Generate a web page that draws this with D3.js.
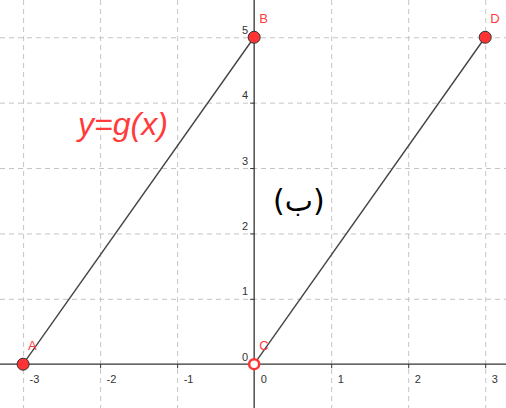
<!DOCTYPE html>
<html>
<head>
<meta charset="utf-8">
<script src="https://cdn.jsdelivr.net/npm/d3@7"></script>
<style>
  body { margin: 0; background: #fff; }
  svg { display: block; font-family: "Liberation Sans", Arial, sans-serif; }
</style>
</head>
<body>
<div id="chart"></div>
<script>
const width = 506
const height = 408

// Data
const xTicks = [-3, -2, -1, 0, 1, 2, 3]
const yTicks = [0, 1, 2, 3, 4, 5]
const pointNames = ["A", "B", "C", "D"]
const pointX = [-3, 0, 0, 3]
const pointY = [0, 5, 0, 5]
const pointHollow = [false, false, true, false]
const segments = [["A", "B"], ["C", "D"]]
const funcLabel = "y=g(x)"
const funcLabelAt = [-2.287, 3.505]
const partLabel = "(ب)"
const partLabelAt = [0.245, 2.343]

const colours = {
  axis: "#333",
  grid: "#c4c4c4",
  line: "#444",
  point: "#ff3333",
  label: "#ff3b3b"
}

const x = d3.scaleLinear().domain([-3.3, 3.27]).range([0, width])
const y = d3.scaleLinear().domain([-0.67, 5.57]).range([height, 0])

const svg = d3.select("#chart")
  .append("svg")
  .attr("width", width)
  .attr("height", height)

// Grid
svg.append("g")
  .selectAll("line")
  .data(xTicks.filter(d => d !== 0))
  .enter()
  .append("line")
  .attr("x1", d => x(d) + 0.5)
  .attr("x2", d => x(d) + 0.5)
  .attr("y1", 0)
  .attr("y2", height)
  .attr("stroke", colours.grid)
  .attr("stroke-dasharray", "5,4")

svg.append("g")
  .selectAll("line")
  .data(yTicks.filter(d => d !== 0))
  .enter()
  .append("line")
  .attr("x1", 0)
  .attr("x2", width)
  .attr("y1", d => y(d) + 0.5)
  .attr("y2", d => y(d) + 0.5)
  .attr("stroke", colours.grid)
  .attr("stroke-dasharray", "5,4")

// Axes (plain hyphen for negatives, like the original)
const tickFmt = d => String(d)

const xAxis = svg.append("g")
  .attr("transform", "translate(0," + y(0) + ")")
  .call(d3.axisBottom(x).tickValues(xTicks).tickSize(4).tickFormat(tickFmt))
xAxis.select(".domain").remove()
xAxis.append("line")
  .attr("x1", 0).attr("x2", width)
  .attr("stroke", colours.axis).attr("stroke-width", 1.3)
xAxis.selectAll(".tick line").attr("stroke", colours.axis)
xAxis.selectAll(".tick text")
  .attr("fill", colours.axis)
  .attr("text-anchor", "start")
  .attr("x", 6)
  .attr("y", 19)
  .attr("dy", 0)
  .style("font-size", "11px")

const yAxis = svg.append("g")
  .attr("transform", "translate(" + x(0) + ",0)")
  .call(d3.axisLeft(y).tickValues(yTicks).tickSize(4).tickFormat(tickFmt))
yAxis.select(".domain").remove()
yAxis.append("line")
  .attr("y1", 0).attr("y2", height)
  .attr("stroke", colours.axis).attr("stroke-width", 1.3)
yAxis.selectAll(".tick line").attr("stroke", colours.axis)
yAxis.selectAll(".tick text")
  .attr("fill", colours.axis)
  .attr("text-anchor", "end")
  .attr("x", -6)
  .attr("y", -4)
  .attr("dy", 0)
  .style("font-size", "11px")

// Segments
const idx = name => pointNames.indexOf(name)
svg.append("g")
  .selectAll("line")
  .data(segments)
  .enter()
  .append("line")
  .attr("x1", d => x(pointX[idx(d[0])]))
  .attr("y1", d => y(pointY[idx(d[0])]))
  .attr("x2", d => x(pointX[idx(d[1])]))
  .attr("y2", d => y(pointY[idx(d[1])]))
  .attr("stroke", colours.line)
  .attr("stroke-width", 1.4)

// Points
svg.append("g")
  .selectAll("circle")
  .data(pointNames)
  .enter()
  .append("circle")
  .attr("cx", (d, i) => x(pointX[i]))
  .attr("cy", (d, i) => y(pointY[i]))
  .attr("r", (d, i) => pointHollow[i] ? 5 : 6)
  .attr("fill", (d, i) => pointHollow[i] ? "#fff" : colours.point)
  .attr("stroke", (d, i) => pointHollow[i] ? colours.point : "#333")
  .attr("stroke-width", (d, i) => pointHollow[i] ? 2.5 : 1)

// Point labels
svg.append("g")
  .selectAll("text")
  .data(pointNames)
  .enter()
  .append("text")
  .attr("x", (d, i) => x(pointX[i]) + 5)
  .attr("y", (d, i) => y(pointY[i]) - 14)
  .attr("fill", colours.label)
  .style("font-size", "13px")
  .text(d => d)

// Function label
svg.append("text")
  .attr("x", x(funcLabelAt[0]))
  .attr("y", y(funcLabelAt[1]))
  .attr("fill", colours.label)
  .style("font-size", "32px")
  .style("font-style", "italic")
  .text(funcLabel)

// Part label
svg.append("text")
  .attr("x", x(partLabelAt[0]))
  .attr("y", y(partLabelAt[1]))
  .attr("fill", "#000")
  .style("font-family", "'DejaVu Sans', sans-serif")
  .style("font-size", "30px")
  .text(partLabel)
</script>
</body>
</html>
